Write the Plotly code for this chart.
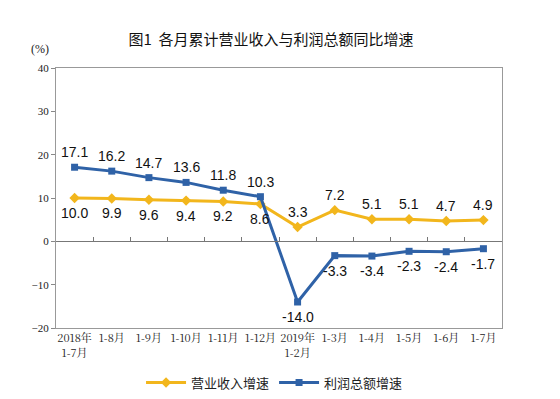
import plotly.graph_objects as go

categories = ["2018年<br>1-7月", "1-8月", "1-9月", "1-10月", "1-11月", "1-12月",
              "2019年<br>1-2月", "1-3月", "1-4月", "1-5月", "1-6月", "1-7月"]
revenue = [10.0, 9.9, 9.6, 9.4, 9.2, 8.6, 3.3, 7.2, 5.1, 5.1, 4.7, 4.9]
profit = [17.1, 16.2, 14.7, 13.6, 11.8, 10.3, -14.0, -3.3, -3.4, -2.3, -2.4, -1.7]
revenue_label_pos = ["below"] * 6 + ["above"] * 6
profit_label_pos = ["above"] * 6 + ["below"] * 6
y_ticks = [-20, -10, 0, 10, 20, 30, 40]

ORANGE = "#F2B61C"
BLUE = "#2F62A7"
idx = list(range(len(categories)))

fig = go.Figure()
fig.add_trace(go.Scatter(
    x=idx, y=revenue, mode="lines+markers", name="营业收入增速",
    line=dict(color=ORANGE, width=3),
    marker=dict(symbol="diamond", size=8, color=ORANGE),
))
fig.add_trace(go.Scatter(
    x=idx, y=profit, mode="lines+markers", name="利润总额增速",
    line=dict(color=BLUE, width=3),
    marker=dict(symbol="square", size=7, color=BLUE),
))
# invisible trace on secondary x axis for the zero-line category ticks
fig.add_trace(go.Scatter(x=idx, y=[None] * len(idx), xaxis="x2", showlegend=False,
                         hoverinfo="skip"))

annotations = []
for vals, pos in ((revenue, revenue_label_pos), (profit, profit_label_pos)):
    for i, (v, p) in enumerate(zip(vals, pos)):
        annotations.append(dict(
            x=i, y=v, xref="x", yref="y", text=f"{v:.1f}", showarrow=False,
            yshift=15 if p == "above" else -15,
            font=dict(family="Liberation Sans, Arial", size=14, color="#111"),
        ))
annotations.append(dict(x=-0.012, y=1.04, xref="paper", yref="paper", text="(%)",
                        showarrow=False, xanchor="right", yanchor="bottom",
                        font=dict(family="Liberation Serif", size=12, color="#222")))

fig.update_layout(
    width=560, height=399,
    margin=dict(l=56, r=58, t=68, b=71, autoexpand=False),
    paper_bgcolor="white", plot_bgcolor="white",
    title=dict(text="图1  各月累计营业收入与利润总额同比增速", x=0.482, xref="paper",
               xanchor="center", y=0.9, yanchor="middle",
               font=dict(family="Noto Sans CJK SC", size=15, color="#111")),
    xaxis=dict(range=[-0.5, 11.5], tickmode="array", tickvals=idx, ticktext=categories,
               showgrid=False, zeroline=False, showline=True, mirror=True,
               linecolor="#999", linewidth=1, ticks="", automargin=False,
               tickfont=dict(family="Noto Serif CJK SC, Noto Sans CJK SC", size=11, color="#222")),
    xaxis2=dict(range=[-0.5, 11.5], overlaying="x", anchor="free", position=1/3,
                side="bottom", tickmode="array", tickvals=[i + 0.5 for i in idx[:-1]],
                showticklabels=False, ticks="inside", ticklen=4, tickcolor="#777",
                showline=True, linecolor="#777", linewidth=1, showgrid=False, zeroline=False),
    yaxis=dict(range=[-20, 40], tickmode="array", tickvals=y_ticks, automargin=False,
               showgrid=False, zeroline=False, showline=True, mirror=True,
               linecolor="#999", linewidth=1, ticks="outside", ticklen=4, tickcolor="#888",
               tickfont=dict(family="Liberation Serif", size=11, color="#222")),
    legend=dict(orientation="h", x=0.49, xanchor="center", y=-0.21, yanchor="middle",
                font=dict(family="Noto Sans CJK SC", size=13, color="#222"),
                itemwidth=40),
    annotations=annotations,
    showlegend=True,
)
fig.write_html("out.html", config={"displayModeBar": False},
               post_script="document.body.style.margin='0';")
